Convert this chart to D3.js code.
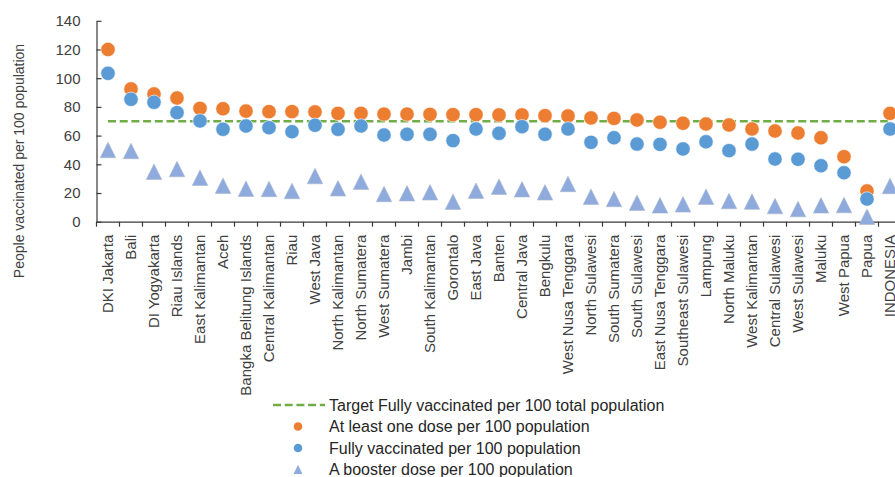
<!DOCTYPE html>
<html>
<head>
<meta charset="utf-8">
<script src="https://cdn.jsdelivr.net/npm/d3@7"></script>
<style>
  html, body { margin: 0; padding: 0; background: #fff; }
  svg { display: block; }
  text { font-family: "Liberation Sans", Arial, sans-serif; }
</style>
</head>
<body>
<svg id="chart" width="895" height="477"></svg>
<script>
const categories = ["DKI Jakarta", "Bali", "DI Yogyakarta", "Riau Islands", "East Kalimantan", "Aceh",
  "Bangka Belitung Islands", "Central Kalimantan", "Riau", "West Java", "North Kalimantan", "North Sumatera",
  "West Sumatera", "Jambi", "South Kalimantan", "Gorontalo", "East Java", "Banten", "Central Java", "Bengkulu",
  "West Nusa Tenggara", "North Sulawesi", "South Sumatera", "South Sulawesi", "East Nusa Tenggara",
  "Southeast Sulawesi", "Lampung", "North Maluku", "West Kalimantan", "Central Sulawesi", "West Sulawesi",
  "Maluku", "West Papua", "Papua", "INDONESIA"];
const atLeastOneDose = [120, 92.5, 89, 86.2, 79, 78.7, 77.1, 76.7, 76.7, 76.5, 75.5, 75.5, 75, 75, 74.8, 74.6, 74.6,
  74.4, 74.4, 73.9, 73.7, 72.3, 72, 70.9, 69.3, 68.6, 68.1, 67.4, 64.6, 63.2, 61.8, 58.5, 45.3, 21.4, 75.5];
const fullyVaccinated = [103.4, 85.3, 83.2, 76, 70.2, 64.4, 66.7, 65.5, 62.7, 67.2, 64.4, 66.7, 60.4, 60.9, 60.9, 56.5,
  64.6, 61.6, 66.2, 60.9, 64.6, 55.3, 58.5, 54.1, 53.9, 50.7, 55.7, 49.5, 54.1, 43.7, 43.5, 39, 34.1, 15.8, 64.6];
const boosterDose = [50, 49.3, 34.8, 36.7, 30.7, 25.1, 23, 22.8, 21.4, 31.8, 23.3, 27.9, 19.3, 19.8, 20.5, 13.9, 21.6,
  24.4, 22.6, 20.5, 26.3, 17.4, 15.8, 13.2, 11.4, 12.1, 17.4, 14.4, 14, 10.9, 8.8, 11.4, 11.6, 3.5, 24.9];
const target = 70;
const yTicks = [0, 20, 40, 60, 80, 100, 120, 140];
const seriesNames = ["Target Fully vaccinated per 100 total population", "At least one dose per 100 population",
  "Fully vaccinated per 100 population", "A booster dose per 100 population"];
const yTitle = "People vaccinated per 100 population";

const COL_ORANGE = "#ED7D31", COL_BLUE = "#5B9BD5", COL_TRI = "#8FAADC", COL_GREEN = "#70AD47";
const AXIS_COL = "#3a3a3a", TEXT_COL = "#404040";

const svg = d3.select("#chart");
svg.append("rect").attr("width", 895).attr("height", 477).attr("fill", "#fff");

const x = d3.scaleBand().domain(categories).range([96.5, 96.5 + 23 * categories.length]).padding(0);
const y = d3.scaleLinear().domain([0, 140]).range([221.7, 20.8]);
const cx = c => x(c) + x.bandwidth() / 2;

// Y axis
const yAxis = d3.axisLeft(y).tickValues(yTicks).tickSize(-5).tickPadding(16).tickSizeOuter(0);
const gy = svg.append("g").attr("transform", "translate(96.5,0)").call(yAxis);
gy.select(".domain").attr("stroke", AXIS_COL).attr("stroke-width", 1.2);
gy.selectAll(".tick line").attr("stroke", AXIS_COL).attr("stroke-width", 1.2);
gy.selectAll(".tick text").attr("fill", TEXT_COL).style("font-size", "15px")
  .style("font-family", "Liberation Sans, Arial, sans-serif");

// X axis
const xAxis = d3.axisBottom(x).tickSize(0).tickSizeOuter(0).tickPadding(0);
const gx = svg.append("g").attr("transform", `translate(0,${y(0)})`).call(xAxis);
gx.select(".domain").attr("stroke", AXIS_COL).attr("stroke-width", 1.2);
gx.selectAll(".tick text")
  .attr("fill", TEXT_COL)
  .style("font-size", "15px")
  .style("font-family", "Liberation Sans, Arial, sans-serif")
  .attr("text-anchor", "end")
  .attr("transform", "rotate(-90)")
  .attr("x", -13)
  .attr("y", 0)
  .attr("dy", "0.36em");
// boundary ticks
const boundaries = categories.map(c => x(c)).concat([x.range()[1]]);
gx.selectAll("line.bt").data(boundaries).join("line").attr("class", "bt")
  .attr("x1", d => d).attr("x2", d => d).attr("y1", 0).attr("y2", 5)
  .attr("stroke", AXIS_COL).attr("stroke-width", 1.2);

// Y title
svg.append("text")
  .attr("transform", "translate(19,161) rotate(-90)")
  .attr("text-anchor", "middle").attr("dy", "0.35em")
  .attr("fill", TEXT_COL).style("font-size", "14px")
  .text(yTitle);

// Target line
svg.append("line")
  .attr("x1", cx(categories[0])).attr("x2", cx(categories[categories.length - 1]))
  .attr("y1", y(target)).attr("y2", y(target))
  .attr("stroke", COL_GREEN).attr("stroke-width", 2.5).attr("stroke-dasharray", "8,3.7");

// Markers
const triPath = (w) => `M0,${-w / 2}L${w / 2},${w / 2}L${-w / 2},${w / 2}Z`;

svg.append("g").selectAll("circle").data(categories).join("circle")
  .attr("cx", c => cx(c)).attr("cy", (c, i) => y(atLeastOneDose[i])).attr("r", 7.2)
  .attr("fill", COL_ORANGE).attr("stroke", "#fff").attr("stroke-width", 0.6);

svg.append("g").selectAll("circle").data(categories).join("circle")
  .attr("cx", c => cx(c)).attr("cy", (c, i) => y(fullyVaccinated[i])).attr("r", 7.2)
  .attr("fill", COL_BLUE).attr("stroke", "#fff").attr("stroke-width", 0.6);

svg.append("g").selectAll("path").data(categories).join("path")
  .attr("transform", (c, i) => `translate(${cx(c)},${y(boosterDose[i])})`)
  .attr("d", triPath(15.5))
  .attr("fill", COL_TRI).attr("stroke", "#a9b7cf").attr("stroke-width", 0.6);

// Legend
const lg = svg.append("g").attr("transform", "translate(0,0)");
const rowsY = [405, 426.5, 448, 469.5];
lg.append("line").attr("x1", 273).attr("x2", 325).attr("y1", rowsY[0]).attr("y2", rowsY[0])
  .attr("stroke", COL_GREEN).attr("stroke-width", 2.5).attr("stroke-dasharray", "8,3.7");
lg.append("circle").attr("cx", 298).attr("cy", rowsY[1]).attr("r", 4.3).attr("fill", COL_ORANGE);
lg.append("circle").attr("cx", 298).attr("cy", rowsY[2]).attr("r", 4.3).attr("fill", COL_BLUE);
lg.append("path").attr("transform", `translate(298,${rowsY[3]})`).attr("d", triPath(9)).attr("fill", COL_TRI);
lg.selectAll("text").data(seriesNames).join("text")
  .attr("x", 329).attr("y", (d, i) => rowsY[i]).attr("dy", "0.35em")
  .attr("fill", "#262626").style("font-size", "16px")
  .text(d => d);
</script>
</body>
</html>
